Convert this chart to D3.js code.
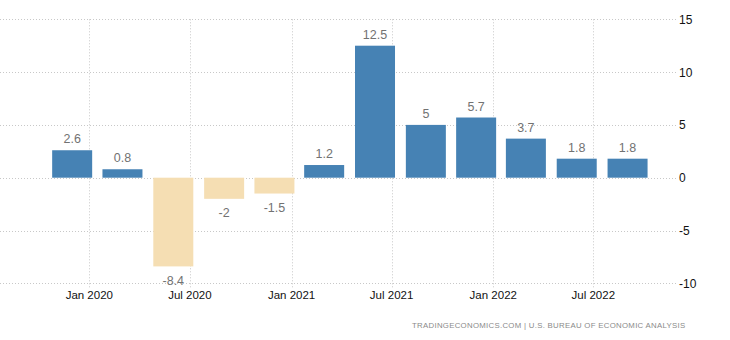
<!DOCTYPE html>
<html>
<head>
<meta charset="utf-8">
<script src="https://cdn.jsdelivr.net/npm/d3@7"></script>
<style>
  html, body { margin: 0; padding: 0; background: #fff; }
  svg { display: block; }
</style>
</head>
<body>
<svg id="chart" width="730" height="340"></svg>
<script>
// Data
const periods = ["2019-12-01","2020-03-01","2020-06-01","2020-09-01","2020-12-01","2021-03-01",
                 "2021-06-01","2021-09-01","2021-12-01","2022-03-01","2022-06-01","2022-09-01"];
const values = [2.6, 0.8, -8.4, -2, -1.5, 1.2, 12.5, 5, 5.7, 3.7, 1.8, 1.8];
const valueLabels = ["2.6","0.8","-8.4","-2","-1.5","1.2","12.5","5","5.7","3.7","1.8","1.8"];
const xTicks = ["2020-01-01","2020-07-01","2021-01-01","2021-07-01","2022-01-01","2022-07-01"];
const xTickLabels = ["Jan 2020","Jul 2020","Jan 2021","Jul 2021","Jan 2022","Jul 2022"];
const yTicks = [15, 10, 5, 0, -5, -10];
const sourceText = "TRADINGECONOMICS.COM | U.S. BUREAU OF ECONOMIC ANALYSIS";

const parse = d3.utcParse("%Y-%m-%d");
const svg = d3.select("#chart");

const x = d3.scaleUtc()
  .domain([parse("2020-01-01"), parse("2022-07-01")])
  .range([89.3, 593.3]);
const y = d3.scaleLinear().domain([-10, 15]).range([283.3, 19.3]);

const gridRight = 677;
const barW = 40;
const font = "'Liberation Sans', Arial, sans-serif";

// Horizontal grid
svg.append("g").selectAll("line").data(yTicks).join("line")
  .attr("x1", 0).attr("x2", gridRight)
  .attr("y1", d => Math.round(y(d)) + 0.5).attr("y2", d => Math.round(y(d)) + 0.5)
  .attr("stroke", "#c8c8c8").attr("stroke-width", 1).attr("stroke-dasharray", "1,2");

// Vertical grid
svg.append("g").selectAll("line").data(xTicks).join("line")
  .attr("x1", d => Math.round(x(parse(d))) + 0.5).attr("x2", d => Math.round(x(parse(d))) + 0.5)
  .attr("y1", y(15)).attr("y2", y(-10) + 5)
  .attr("stroke", "#c8c8c8").attr("stroke-width", 1).attr("stroke-dasharray", "1,2");

// Bars
const data = periods.map((p, i) => ({ date: parse(p), v: values[i], label: valueLabels[i] }));
svg.append("g").selectAll("rect").data(data).join("rect")
  .attr("x", d => x(d.date) - barW / 2)
  .attr("width", barW)
  .attr("y", d => y(Math.max(0, d.v)))
  .attr("height", d => Math.abs(y(d.v) - y(0)))
  .attr("fill", d => d.v >= 0 ? "#4682b4" : "#f5deb3");

// Value labels
svg.append("g").selectAll("text").data(data).join("text")
  .attr("x", d => x(d.date))
  .attr("y", d => d.v >= 0 ? y(d.v) - 7 : y(d.v) + 18.5)
  .attr("text-anchor", "middle")
  .attr("font-family", font).attr("font-size", 12.5)
  .attr("fill", "#727272")
  .text(d => d.label);

// X tick labels
svg.append("g").selectAll("text").data(xTicks).join("text")
  .attr("x", d => x(parse(d)))
  .attr("y", 298.5)
  .attr("text-anchor", "middle")
  .attr("font-family", font).attr("font-size", 11.5)
  .attr("fill", "#111")
  .text((d, i) => xTickLabels[i]);

// Y tick labels
svg.append("g").selectAll("text").data(yTicks).join("text")
  .attr("x", 679)
  .attr("y", d => y(d) + 4.5)
  .attr("text-anchor", "start")
  .attr("font-family", font).attr("font-size", 12)
  .attr("fill", "#111")
  .text(d => d);

// Source (letter-spaced to fit target width)
const src = svg.append("text")
  .attr("x", 412).attr("y", 328)
  .attr("font-family", font).attr("font-size", 7.8)
  .attr("fill", "#8a8a8a")
  .text(sourceText);
const natural = src.node().getComputedTextLength();
const spacing = Math.max(0, (273 - natural) / (sourceText.length - 1));
src.attr("letter-spacing", spacing.toFixed(2));
</script>
</body>
</html>
